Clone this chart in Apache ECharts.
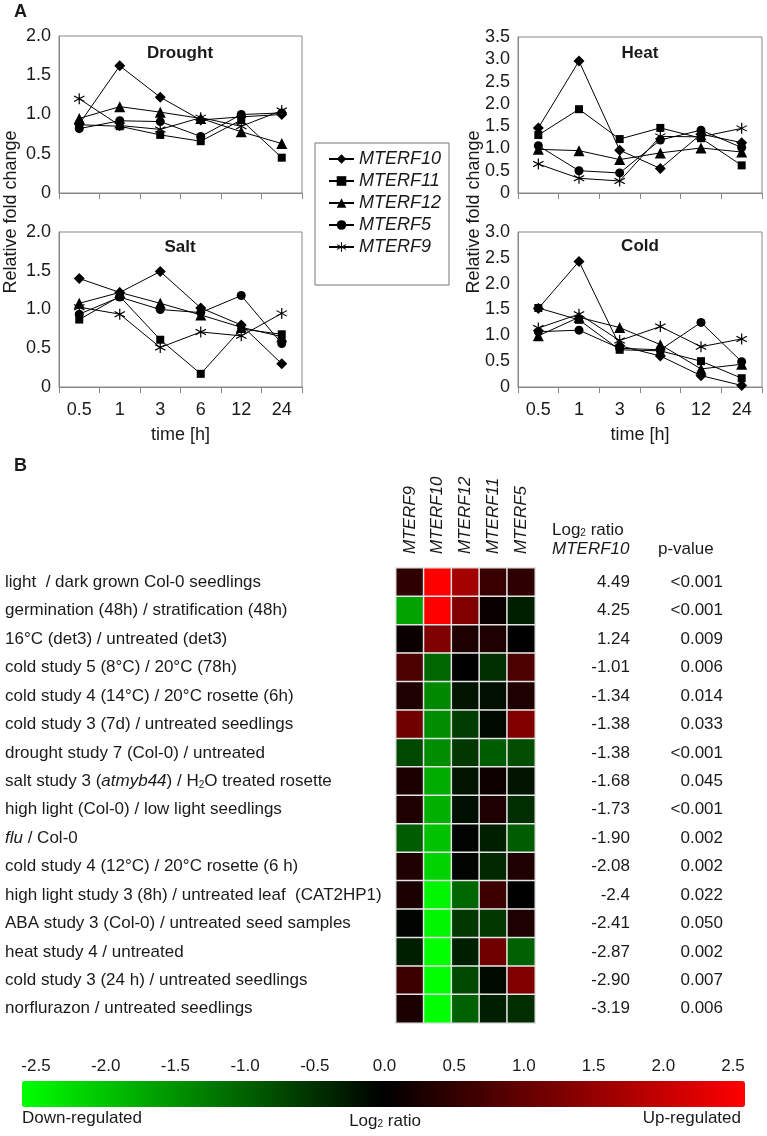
<!DOCTYPE html>
<html lang="en">
<head>
	<meta charset="UTF-8">
	<title>MTERF expression</title>
	<script src="https://cdn.jsdelivr.net/npm/echarts@6/dist/echarts.min.js"></script>
	<style>
		html, body { margin: 0; padding: 0; background: #fff; }
		#chart { width: 767px; height: 1136px; }
	</style>
</head>
<body>
	<div id="chart"></div>

	<script>
		// ---- panel A: time courses ----
		var times = ['0.5', '1', '3', '6', '12', '24'];
		var genes = ['MTERF10', 'MTERF11', 'MTERF12', 'MTERF5', 'MTERF9'];
		// one row per gene, same order as genes
		var drought = [
			[0.88, 1.62, 1.22, 0.93, 0.97, 1.00],
			[0.87, 0.85, 0.74, 0.66, 0.93, 0.45],
			[0.95, 1.10, 1.03, 0.95, 0.78, 0.63],
			[0.82, 0.92, 0.91, 0.72, 1.00, 1.02],
			[1.20, 0.86, 0.81, 0.96, 0.85, 1.05]
		];
		var heat = [
			[1.46, 2.96, 0.96, 0.55, 1.32, 1.13],
			[1.30, 1.88, 1.21, 1.46, 1.23, 0.62],
			[0.98, 0.95, 0.75, 0.90, 1.01, 0.92],
			[1.06, 0.50, 0.45, 1.19, 1.41, 1.02],
			[0.65, 0.33, 0.27, 1.27, 1.26, 1.45]
		];
		var salt = [
			[1.40, 1.22, 1.49, 1.02, 0.80, 0.30],
			[0.87, 1.17, 0.61, 0.17, 0.75, 0.68],
			[1.08, 1.22, 1.08, 0.93, 0.77, 0.65],
			[0.94, 1.16, 1.00, 0.96, 1.18, 0.56],
			[1.03, 0.94, 0.51, 0.71, 0.66, 0.95]
		];
		var cold = [
			[1.52, 2.43, 0.80, 0.60, 0.22, 0.03],
			[1.53, 1.30, 0.72, 0.70, 0.50, 0.17],
			[0.99, 1.35, 1.15, 0.82, 0.35, 0.44],
			[1.07, 1.10, 0.75, 0.72, 1.25, 0.49],
			[1.14, 1.41, 0.90, 1.17, 0.78, 0.93]
		];
		var panelNames = ['Drought', 'Heat', 'Salt', 'Cold'];
		var panelMax = [2.0, 3.5, 2.0, 3.0];

		// ---- panel B: heat map ----
		var hmGenes = ['MTERF9', 'MTERF10', 'MTERF12', 'MTERF11', 'MTERF5'];
		var conditions = [
			'light  / dark grown Col-0 seedlings',
			'germination (48h) / stratification (48h)',
			'16°C (det3) / untreated (det3)',
			'cold study 5 (8°C) / 20°C (78h)',
			'cold study 4 (14°C) / 20°C rosette (6h)',
			'cold study 3 (7d) / untreated seedlings',
			'drought study 7 (Col-0) / untreated',
			'salt study 3 ({i|atmyb44}) / H{s|2}O treated rosette',
			'high light (Col-0) / low light seedlings',
			'{i|flu} / Col-0',
			'cold study 4 (12°C) / 20°C rosette (6 h)',
			'high light study 3 (8h) / untreated leaf  (CAT2HP1)',
			'ABA study 3 (Col-0) / untreated seed samples',
			'heat study 4 / untreated',
			'cold study 3 (24 h) / untreated seedlings',
			'norflurazon / untreated seedlings'
		];
		var log2Labels = ['4.49', '4.25', '1.24', '-1.01', '-1.34', '-1.38', '-1.38', '-1.68',
			'-1.73', '-1.90', '-2.08', '-2.4', '-2.41', '-2.87', '-2.90', '-3.19'];
		var pValues = ['<0.001', '<0.001', '0.009', '0.006', '0.014', '0.033', '<0.001', '0.045',
			'<0.001', '0.002', '0.002', '0.022', '0.050', '0.002', '0.007', '0.006'];
		// log2 ratio per cell, columns in hmGenes order
		var cells = [
			[0.45, 4.49, 1.60, 0.55, 0.45],
			[-1.60, 4.25, 1.25, 0.10, -0.30],
			[0.10, 1.24, 0.30, 0.30, 0.00],
			[0.75, -1.01, 0.00, -0.45, 0.75],
			[0.30, -1.34, -0.20, -0.15, 0.30],
			[1.10, -1.38, -0.60, -0.10, 1.25],
			[-0.70, -1.38, -0.55, -0.90, -0.75],
			[0.25, -1.68, -0.20, 0.15, -0.20],
			[0.30, -1.73, -0.15, 0.30, -0.45],
			[-0.90, -1.90, -0.05, -0.30, -0.90],
			[0.30, -2.08, -0.05, -0.40, 0.30],
			[0.25, -2.40, -1.00, 0.60, 0.00],
			[-0.05, -2.41, -0.55, -0.55, 0.30],
			[-0.30, -2.87, -0.30, 1.10, -0.95],
			[0.60, -2.90, -0.70, -0.10, 1.25],
			[0.25, -3.19, -0.95, -0.30, -0.45]
		];
		var scaleTicks = [-2.5, 2.5];

		var font = 'Liberation Sans';
		var ink = '#1a1a1a';
		var frame = '#888';
		var asterisk = 'path://M-1,-10L1,-10L1,10L-1,10ZM8.16,-5.87L9.16,-4.13L-8.16,5.87L-9.16,4.13ZM-9.16,-4.13L-8.16,-5.87L9.16,4.13L8.16,5.87Z';
		var symbols = ['diamond', 'rect', 'triangle', 'circle', asterisk];
		var symbolSizes = [11, 8, 11, 9, 11];

		var panels = [drought, heat, salt, cold];
		var grids = [
			{left: 59, top: 36, width: 243, height: 157},
			{left: 518, top: 37, width: 244, height: 156},
			{left: 59, top: 232, width: 243, height: 155},
			{left: 518, top: 232, width: 244, height: 155}
		];
		var xAxes = [], yAxes = [], series = [];

		panels.forEach(function (panel, p) {
			grids[p].show = true;
			grids[p].borderColor = frame;
			grids[p].borderWidth = 1;
			var bottomRow = p >= 2;
			xAxes.push({
				type: 'category', gridIndex: p, data: times,
				axisLine: {lineStyle: {color: frame}},
				axisTick: {show: true, length: 6, lineStyle: {color: frame}},
				axisLabel: {show: bottomRow, fontSize: 18, color: ink, margin: 14},
				name: bottomRow ? 'time [h]' : '',
				nameLocation: 'middle', nameGap: 39,
				nameTextStyle: {fontSize: 18, color: ink}
			});
			yAxes.push({
				type: 'value', gridIndex: p, min: 0, max: panelMax[p], interval: 0.5,
				axisLine: {show: true, lineStyle: {color: frame}},
				axisTick: {show: false},
				splitLine: {show: false},
				axisLabel: {
					fontSize: 18, color: ink, margin: 8,
					formatter: function (v) { return v === 0 ? '0' : v.toFixed(1); }
				}
			});
			panel.forEach(function (vals, g) {
				series.push({
					type: 'line', name: genes[g], xAxisIndex: p, yAxisIndex: p,
					data: vals,
					symbol: symbols[g], symbolSize: symbolSizes[g],
					lineStyle: {color: '#000', width: 1},
					itemStyle: {color: '#000'}
				});
			});
		});

		// heat map grid (index 4)
		grids.push({left: 396, top: 568, width: 139, height: 455});
		xAxes.push({
			type: 'category', gridIndex: 4, position: 'top', data: hmGenes,
			axisLine: {show: false}, axisTick: {show: false}, splitLine: {show: false},
			axisLabel: {rotate: -90, interval: 0, fontSize: 17, fontStyle: 'italic', color: ink, margin: 14}
		});
		var hiddenCat = {axisLine: {show: false}, axisTick: {show: false}, splitLine: {show: false}};
		yAxes.push(Object.assign({
			type: 'category', gridIndex: 4, data: conditions, inverse: true,
			axisLabel: {
				interval: 0, align: 'left', margin: 391, fontSize: 17, color: ink,
				rich: {
					i: {fontSize: 17, fontStyle: 'italic', color: ink},
					s: {fontSize: 10, verticalAlign: 'bottom', color: ink}
				}
			}
		}, hiddenCat));
		yAxes.push(Object.assign({
			type: 'category', gridIndex: 4, position: 'right', data: log2Labels, inverse: true,
			axisLabel: {interval: 0, align: 'right', margin: 95, fontSize: 17, color: ink}
		}, hiddenCat));
		yAxes.push(Object.assign({
			type: 'category', gridIndex: 4, position: 'right', data: pValues, inverse: true,
			axisLabel: {interval: 0, align: 'right', margin: 188, fontSize: 17, color: ink}
		}, hiddenCat));

		var hmData = [];
		cells.forEach(function (row, r) {
			row.forEach(function (v, c) {
				hmData.push([c, r, Math.max(-2.5, Math.min(2.5, v))]);
			});
		});
		series.push({
			type: 'heatmap', xAxisIndex: 4, yAxisIndex: 4, data: hmData,
			itemStyle: {borderColor: '#e4e4e4', borderWidth: 1.5}
		});

		// tick labels for the colour scale (grid 5)
		grids.push({left: 36, top: 1081, width: 697, height: 26});
		xAxes.push({
			type: 'value', gridIndex: 5, position: 'top',
			min: scaleTicks[0], max: scaleTicks[1], interval: 0.5,
			axisLine: {show: false}, axisTick: {show: false}, splitLine: {show: false},
			axisLabel: {fontSize: 17, color: ink, margin: 6, formatter: function (v) { return v.toFixed(1); }}
		});
		yAxes.push({type: 'value', gridIndex: 5, show: false});
		series.push({type: 'scatter', xAxisIndex: 5, yAxisIndex: 7, data: []});

		function txt(text, x, y, opts) {
			opts = opts || {};
			return {
				type: 'text', x: x, y: y, rotation: opts.rotation || 0, silent: true,
				style: {
					text: text, fill: ink, fontFamily: font,
					fontSize: opts.size || 17, fontWeight: opts.weight || 'normal',
					fontStyle: opts.style || 'normal',
					align: opts.align || 'left', verticalAlign: 'middle',
					rich: {s: {fontSize: 10, verticalAlign: 'bottom', fontFamily: font, fill: ink}}
				}
			};
		}
		var titlePos = [[180, 53], [640, 53], [180, 247], [640, 246]];
		var graphics = [
			txt('A', 14, 12, {weight: 'bold', size: 18}),
			txt('B', 14, 466, {weight: 'bold', size: 18}),
			txt('Relative fold change', 11, 212, {align: 'center', rotation: Math.PI / 2, size: 18}),
			txt('Relative fold change', 474, 212, {align: 'center', rotation: Math.PI / 2, size: 18}),
			txt('Log{s|2} ratio', 552, 530),
			txt('MTERF10', 552, 549, {style: 'italic'}),
			txt('p-value', 658, 549),
			txt('Down-regulated', 22, 1118),
			txt('Log{s|2} ratio', 385, 1121, {align: 'center'}),
			txt('Up-regulated', 741, 1118, {align: 'right'})
		];
		panelNames.forEach(function (n, i) {
			graphics.push(txt(n, titlePos[i][0], titlePos[i][1], {weight: 'bold', align: 'center'}));
		});

		var chart = echarts.init(document.getElementById('chart'));
		chart.setOption({
			animation: false,
			backgroundColor: '#fff',
			textStyle: {fontFamily: font},
			grid: grids,
			xAxis: xAxes,
			yAxis: yAxes,
			legend: {
				data: genes, orient: 'vertical', left: 315, top: 143,
				padding: [7, 8, 29, 13], itemGap: 4, itemWidth: 25, itemHeight: 12,
				borderColor: '#777', borderWidth: 1, selectedMode: false,
				textStyle: {fontSize: 18, fontStyle: 'italic', color: ink}
			},
			visualMap: {
				type: 'continuous', min: -2.5, max: 2.5, seriesIndex: 20,
				orient: 'horizontal', left: 22, top: 1081, padding: 0,
				itemWidth: 26, itemHeight: 723, calculable: false, hoverLink: false,
				inRange: {color: ['#00ff00', '#000000', '#ff0000']}
			},
			graphic: graphics,
			series: series
		});
	</script>
</body>
</html>
